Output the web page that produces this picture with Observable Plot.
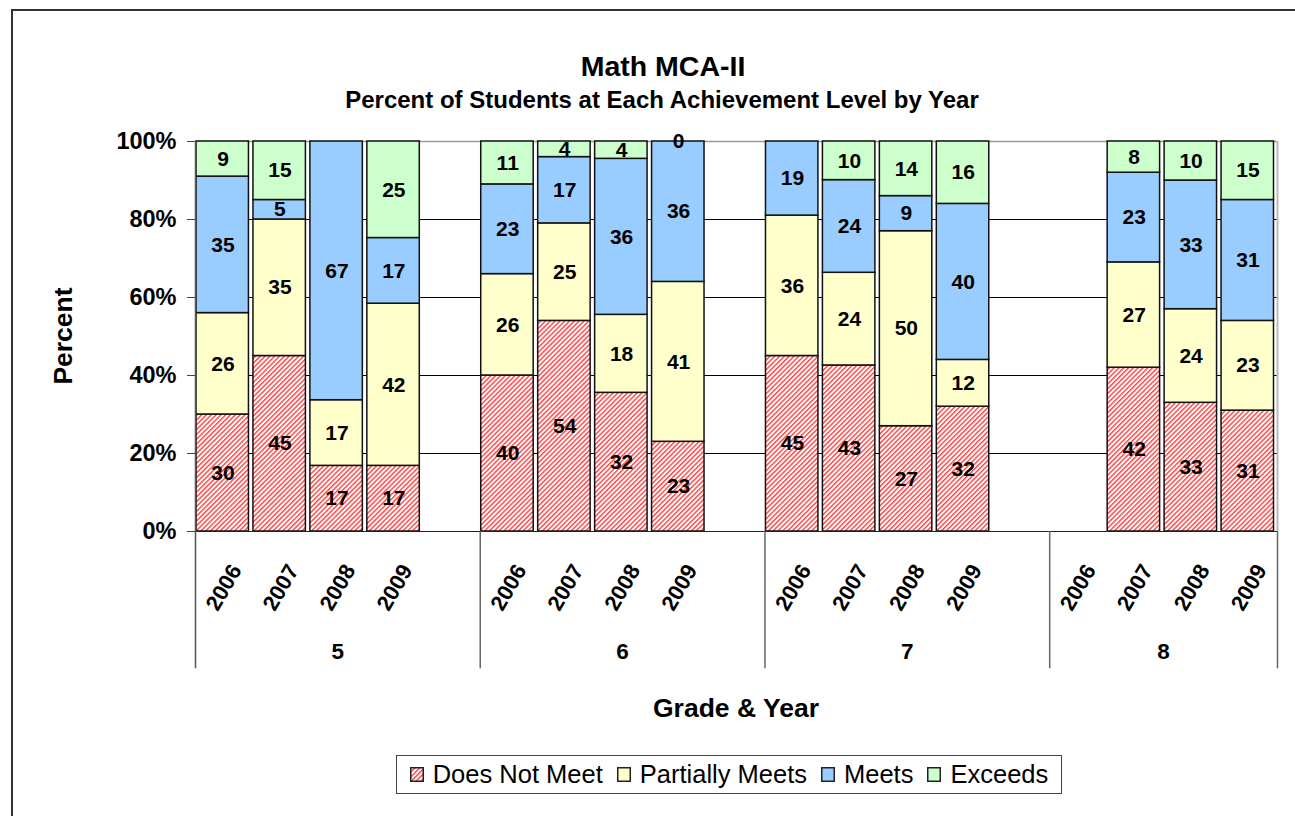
<!DOCTYPE html>
<html>
<head>
<meta charset="utf-8">
<script src="https://cdn.jsdelivr.net/npm/d3@7"></script>
<script src="https://cdn.jsdelivr.net/npm/@observablehq/plot@0.6"></script>
<style>
  html, body { margin: 0; padding: 0; background: #fff; overflow: hidden; width: 1295px; height: 816px; }
  body { position: relative; font-family: "Liberation Sans", Arial, sans-serif; color: #000; }
  .frame { position: absolute; left: 11px; top: 9px; width: 1400px; height: 900px; border: 2px solid #333; box-sizing: border-box; }
  .abs { position: absolute; white-space: nowrap; line-height: 1; }
  #chart { position: absolute; left: 0; top: 0; }
  .legend { position: absolute; left: 396px; top: 755px; width: 666px; height: 39px; border: 1.5px solid #444; box-sizing: border-box;
            display: flex; align-items: center; justify-content: center; font-size: 25.5px; }
  .legend .sw { width: 14px; height: 15px; margin-right: 9px; display: inline-block; }
  .legend .item { display: flex; align-items: center; margin: 0 7px; }
</style>
</head>
<body>
<svg width="0" height="0" style="position:absolute">
  <defs>
    <pattern id="hatch" patternUnits="userSpaceOnUse" width="3.4" height="10" patternTransform="rotate(45)">
      <rect x="0" y="0" width="3.4" height="10" fill="#ffffff"></rect>
      <line x1="0.7" y1="0" x2="0.7" y2="10" stroke="#ff3030" stroke-width="1.3"></line>
    </pattern>
  </defs>
</svg>
<div class="frame"></div>
<div id="chart"></div>
<div class="abs" style="left:0;width:1326px;text-align:center;top:52px;font-size:28.5px;font-weight:bold;">Math MCA-II</div>
<div class="abs" style="left:0;width:1324px;text-align:center;top:88px;font-size:24px;font-weight:bold;">Percent of Students at Each Achievement Level by Year</div>
<div class="abs" style="left:63px;top:336px;font-size:26.5px;font-weight:bold;transform:translate(-50%,-50%) rotate(-90deg);">Percent</div>
<div class="abs" style="left:0;width:1472px;text-align:center;top:695px;font-size:26.5px;font-weight:bold;">Grade &amp; Year</div>
<div class="legend" id="legend"></div>
<script>
// ---- data ----
const levels = ["Does Not Meet", "Partially Meets", "Meets", "Exceeds"];
const levelFills = ["url(#hatch)", "#FFFFCC", "#99CCFF", "#CCFFCC"];
const grades = ["5", "6", "7", "8"];
const years = ["2006", "2007", "2008", "2009"];
// order: grade 5 (2006..2009), grade 6, grade 7, grade 8
const doesNotMeet    = [30, 45, 17, 17,  40, 54, 32, 23,  45, 43, 27, 32,  null, 42, 33, 31];
const partiallyMeets = [26, 35, 17, 42,  26, 25, 18, 41,  36, 24, 50, 12,  null, 27, 24, 23];
const meets          = [35,  5, 67, 17,  23, 17, 36, 36,  19, 24,  9, 40,  null, 23, 33, 31];
const exceeds        = [ 9, 15, null, 25, 11,  4,  4,  0,  null, 10, 14, 16, null,  8, 10, 15];

const series = [doesNotMeet, partiallyMeets, meets, exceeds];
const slotsPerGroup = years.length + 1; // one blank slot between grade groups
const nSlots = grades.length * slotsPerGroup - 1;

const rows = [];
const yearLabels = [];
grades.forEach((g, gi) => {
  years.forEach((y, yi) => {
    const i = gi * years.length + yi;
    const slot = gi * slotsPerGroup + yi;
    yearLabels.push({slot, year: y});
    levels.forEach((lv, li) => {
      const v = series[li][i];
      if (v !== null && v !== undefined) rows.push({slot, grade: g, year: y, level: lv, value: v});
    });
  });
});
const groupInfo = grades.map((g, gi) => ({grade: g, start: gi * slotsPerGroup, end: Math.min(gi * slotsPerGroup + slotsPerGroup, nSlots)}));
const separators = groupInfo.map(d => d.start).concat([nSlots]);

const font = '"Liberation Sans", Arial, sans-serif';

const chart = Plot.plot({
  width: 1295,
  height: 816,
  marginLeft: 195,
  marginRight: 18,
  marginTop: 141,
  marginBottom: 285,
  style: {fontFamily: font, background: "transparent", overflow: "visible"},
  x: {domain: [0, nSlots], axis: null},
  y: {domain: [0, 1]},
  color: {domain: levels, range: levelFills},
  marks: [
    Plot.gridY([0.2, 0.4, 0.6, 0.8], {stroke: "#000", strokeOpacity: 1, strokeWidth: 1}),
    Plot.ruleY([1], {stroke: "#999", strokeWidth: 1.5}),
    Plot.ruleX([nSlots], {y1: 0, y2: 1, stroke: "#bbb", strokeWidth: 2}),
    Plot.rect(rows, Plot.stackY({
      x1: "slot", x2: d => d.slot + 1, y: "value", offset: "normalize",
      fill: "level", stroke: "#111", strokeWidth: 1.5, insetLeft: 1, insetRight: 3.5
    })),
    Plot.text(rows, Plot.stackY({
      x: d => d.slot + 0.5, y: "value", offset: "normalize",
      text: d => String(d.value), fill: "#000", fontSize: 21, fontWeight: "bold", dx: -1
    })),
    Plot.ruleY([0], {stroke: "#222", strokeWidth: 1.2}),
    Plot.ruleX([0], {y1: -0.352, y2: 1, stroke: "#555", strokeWidth: 1.5}),
    Plot.ruleX(separators.slice(1), {y1: -0.352, y2: 0, stroke: "#666", strokeWidth: 1.5}),
    Plot.axisY({
      ticks: [0, 0.2, 0.4, 0.6, 0.8, 1],
      tickFormat: d => Math.round(d * 100) + "%",
      tickSize: 8, tickPadding: 11, label: null,
      fontSize: 23.5, fontWeight: "bold", stroke: "#444"
    }),
    Plot.text(yearLabels, {
      x: d => d.slot + 0.5, y: -0.144, text: "year", rotate: -60,
      fontSize: 22, fontWeight: "bold", fill: "#000"
    }),
    Plot.text(groupInfo, {
      x: d => (d.start + d.end) / 2, y: -0.308, text: "grade",
      fontSize: 22.5, fontWeight: "bold", fill: "#000"
    })
  ]
});
document.getElementById("chart").appendChild(chart);

// legend
const legend = document.getElementById("legend");
levels.forEach((lv, i) => {
  const item = document.createElement("div");
  item.className = "item";
  item.innerHTML = `<svg class="sw" width="14" height="15"><rect x="0.75" y="0.75" width="12.5" height="13.5" fill="${levelFills[i]}" stroke="#222" stroke-width="1.5"></rect></svg><span>${lv}</span>`;
  legend.appendChild(item);
});
</script>
</body>
</html>
